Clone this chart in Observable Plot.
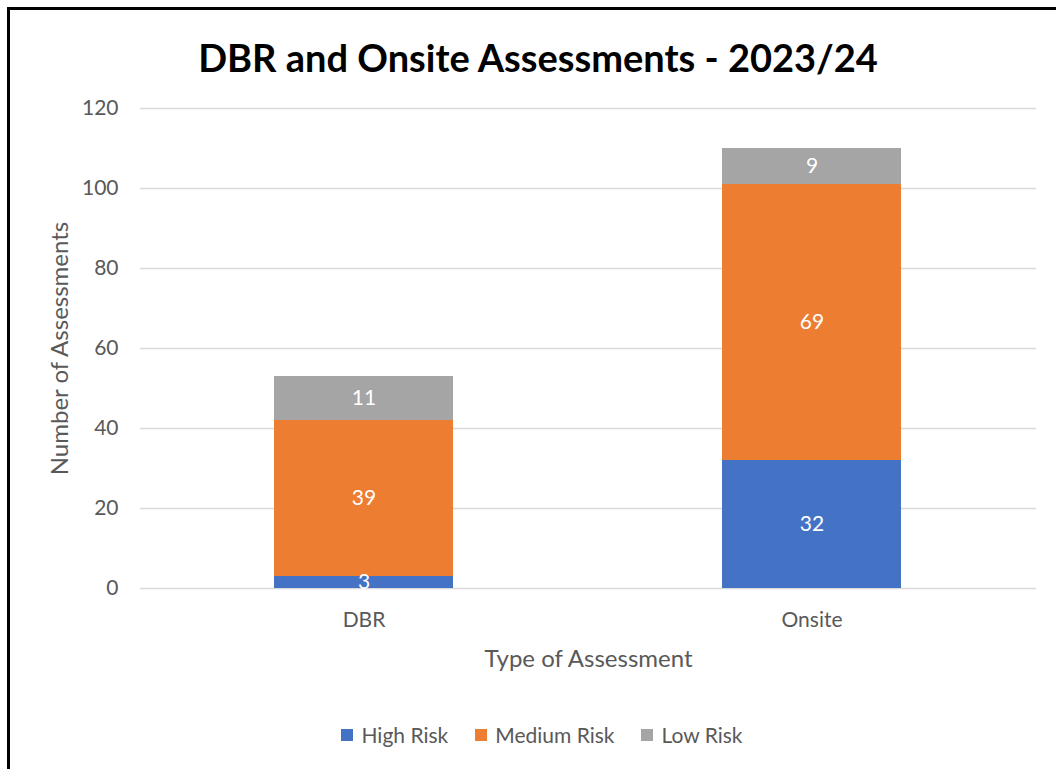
<!DOCTYPE html>
<html>
<head>
<meta charset="utf-8">
<script src="https://cdn.jsdelivr.net/npm/d3@7"></script>
<script src="https://cdn.jsdelivr.net/npm/@observablehq/plot@0.6"></script>
<style>
  html, body { margin: 0; padding: 0; background: #fff; }
  body { width: 1056px; height: 769px; position: relative; overflow: hidden; font-family: Lato, "Open Sans", sans-serif; }
  #frameTop { position: absolute; left: 7px; top: 7px; width: 1049px; height: 3px; background: #000; }
  #frameLeft { position: absolute; left: 7px; top: 7px; width: 3px; height: 762px; background: #000; }
  #title { position: absolute; left: 0; width: 1076px; top: 34px; line-height: 46px; text-align: center; font-size: 38px; font-weight: 700; color: #000; }
  #chart { position: absolute; left: 0; top: 0; }
  #legend { position: absolute; left: 0; width: 1084px; top: 720px; line-height: 30px; display: flex; justify-content: center; gap: 27px; font-size: 21px; color: #595959; }
  .item { display: flex; align-items: center; gap: 8px; }
  .sw { width: 12px; height: 12px; display: inline-block; }
</style>
</head>
<body>
<div id="chart"></div>
<div id="title">DBR and Onsite Assessments - 2023/24</div>
<div id="legend"></div>
<div id="frameTop"></div>
<div id="frameLeft"></div>
<script>
const categories = ["DBR", "Onsite"];
const seriesNames = ["High Risk", "Medium Risk", "Low Risk"];
const highRisk = [3, 32];
const mediumRisk = [39, 69];
const lowRisk = [11, 9];
const colors = ["#4472C4", "#ED7D31", "#A5A5A5"];
const yTicks = [0, 20, 40, 60, 80, 100, 120];

const seriesValues = [highRisk, mediumRisk, lowRisk];
const data = [];
seriesNames.forEach((s, si) => categories.forEach((c, ci) => data.push({type: c, risk: s, value: seriesValues[si][ci]})));

const chart = Plot.plot({
  width: 1056,
  height: 680,
  marginTop: 108,
  marginBottom: 92,
  marginLeft: 140,
  marginRight: 20,
  style: {fontFamily: "Lato, 'Open Sans', sans-serif", background: "transparent", overflow: "visible"},
  x: {domain: categories, paddingInner: 0.6, paddingOuter: 0.3, label: null},
  y: {domain: [0, 120], label: null},
  color: {domain: seriesNames, range: colors},
  marks: [
    Plot.gridY(yTicks, {stroke: "#d9d9d9", strokeOpacity: 1, strokeWidth: 1.5}),
    Plot.barY(data, {x: "type", y: "value", fill: "risk", order: seriesNames}),
    Plot.textY(data, Plot.stackY({x: "type", y: "value", z: "risk", order: seriesNames, text: d => String(d.value), fill: "#ffffff", fontSize: 21})),
    Plot.axisY(yTicks, {tickSize: 0, tickPadding: 22, fontSize: 21, fill: "#595959", label: null}),
    Plot.axisX({tickSize: 0, tickPadding: 24, fontSize: 21, fill: "#595959", label: null}),
    Plot.text(["Number of Assessments"], {frameAnchor: "left", dx: -80, rotate: -90, textAnchor: "middle", lineAnchor: "middle", fontSize: 24, fill: "#595959"}),
    Plot.text(["Type of Assessment"], {frameAnchor: "bottom", dy: 71, textAnchor: "middle", lineAnchor: "middle", fontSize: 24, fill: "#595959"})
  ]
});
document.getElementById("chart").appendChild(chart);

const legend = document.getElementById("legend");
seriesNames.forEach((s, i) => {
  const item = document.createElement("div");
  item.className = "item";
  const sw = document.createElement("span");
  sw.className = "sw";
  sw.style.background = colors[i];
  const t = document.createElement("span");
  t.textContent = s;
  item.appendChild(sw);
  item.appendChild(t);
  legend.appendChild(item);
});
</script>
</body>
</html>
